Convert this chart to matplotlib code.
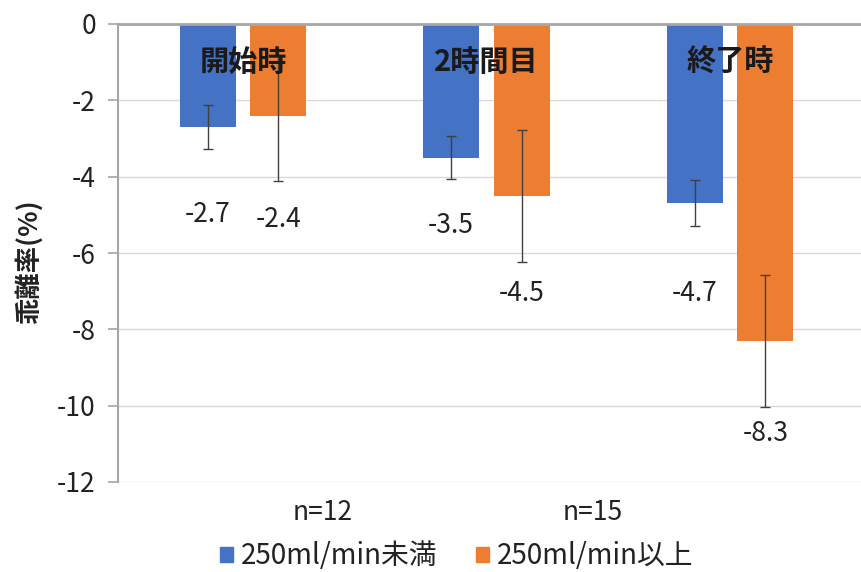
import matplotlib
matplotlib.use('Agg')
import numpy as np
from matplotlib import pyplot as plt
from matplotlib.patches import Patch

plt.rcParams['font.family'] = ['Noto Sans CJK JP', 'DejaVu Sans']
plt.rcParams['axes.unicode_minus'] = False

# data
categories = ['開始時', '2時間目', '終了時']
series_names = ['250ml/min未満', '250ml/min以上']
low_values = [-2.7, -3.5, -4.7]
high_values = [-2.4, -4.5, -8.3]
low_err = [0.57, 0.57, 0.6]
high_err = [1.72, 1.73, 1.73]
# where the value labels sit (hand placed in the original)
low_label_y = [-5.0, -5.27, -7.05]
high_label_y = [-5.13, -7.05, -10.72]
n_labels = ['n=12', 'n=15']

blue = '#4472C4'
orange = '#ED7D31'
axis_gray = '#A6A6A6'

fig = plt.figure(figsize=(8.62, 5.72), dpi=100)
ax = fig.add_axes([118 / 862, 90 / 572, 744 / 862, 458 / 572])

x = np.arange(len(categories))
offset = 0.145
width = 0.23

ax.bar(x - offset, low_values, width, color=blue, zorder=2)
ax.bar(x + offset, high_values, width, color=orange, zorder=2)
ax.errorbar(x - offset, low_values, yerr=low_err, fmt='none', ecolor='#404040',
            elinewidth=1, capsize=3.5, capthick=1, zorder=3)
ax.errorbar(x + offset, high_values, yerr=high_err, fmt='none', ecolor='#404040',
            elinewidth=1, capsize=3.5, capthick=1, zorder=3)

for i in range(len(categories)):
    ax.text(x[i] - offset, low_label_y[i], f'{low_values[i]}', ha='center', va='center',
            fontsize=19, color='#222222', zorder=4)
    ax.text(x[i] + offset, high_label_y[i], f'{high_values[i]}', ha='center', va='center',
            fontsize=19, color='#222222', zorder=4)
    ax.text(x[i], -1.0, categories[i], ha='center', va='center', fontsize=21,
            fontweight='bold', color='#1a1a1a', zorder=4)

ax.set_ylim(-12, 0)
ax.set_xlim(-0.513, 2.542)
ax.set_yticks(np.arange(-12, 1, 2))
ax.set_xticks([])
ax.grid(axis='y', color='#D9D9D9', linewidth=1, zorder=0)
ax.set_axisbelow(True)

for side in ['right', 'bottom']:
    ax.spines[side].set_visible(False)
ax.spines['left'].set_color(axis_gray)
ax.spines['left'].set_linewidth(1.5)
ax.spines['top'].set_color(axis_gray)
ax.spines['top'].set_linewidth(2)
ax.tick_params(axis='y', direction='out', length=7, width=1.2, color=axis_gray,
               labelsize=19, labelcolor='#222222', pad=9)

fig.text(29 / 862, 1 - 262 / 572, '乖離率(%)', rotation=90, ha='center', va='center',
         fontsize=19, fontweight='bold', color='#222222')

fig.text(323 / 862, 1 - 512 / 572, n_labels[0], ha='center', va='center', fontsize=19,
         color='#222222')
fig.text(593 / 862, 1 - 512 / 572, n_labels[1], ha='center', va='center', fontsize=19,
         color='#222222')

handles = [Patch(color=blue), Patch(color=orange)]
fig.legend(handles, series_names, loc='center', bbox_to_anchor=(457 / 862, 1 - 556 / 572),
           ncol=2, frameon=False, fontsize=20, handlelength=0.45, handleheight=0.45,
           handletextpad=0.3, columnspacing=1.4, labelcolor='#222222',
           borderpad=0.1)

plt.savefig('out.png', dpi=100)
